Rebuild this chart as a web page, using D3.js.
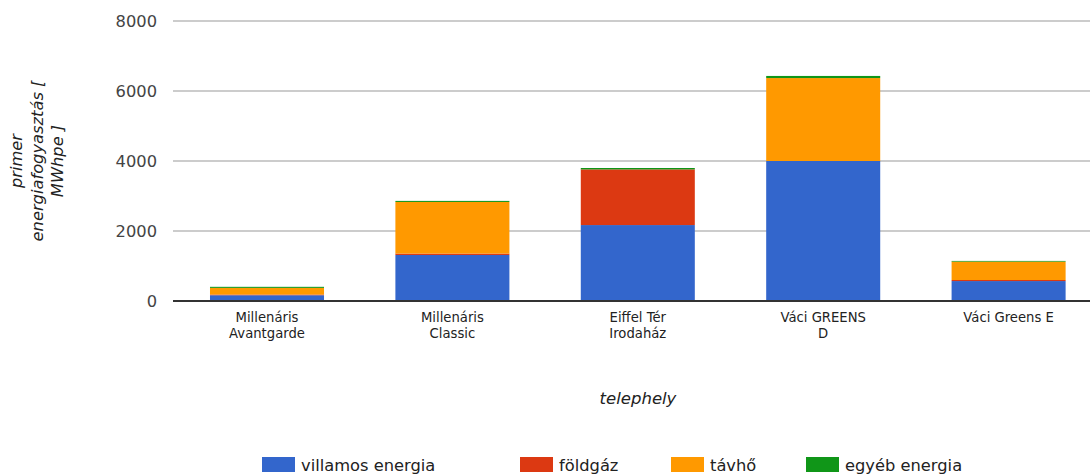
<!DOCTYPE html>
<html><head><meta charset="utf-8">
<script src="https://cdn.jsdelivr.net/npm/d3@7"></script>
<style>
html,body{margin:0;padding:0;background:#fff;font-family:'DejaVu Sans';}
svg text{font-family:'DejaVu Sans';}
</style></head>
<body><svg id="c" width="1090" height="476"></svg>
<script>
const categories = [["Millenáris","Avantgarde"],["Millenáris","Classic"],["Eiffel Tér","Irodaház"],["Váci GREENS","D"],["Váci Greens E"]];
const seriesNames = ["villamos energia","földgáz","távhő","egyéb energia"];
const villamos = [165, 1315, 2170, 4000, 570];
const foldgaz  = [20, 40, 1590, 0, 30];
const tavho    = [190, 1475, 0, 2370, 525];
const egyeb    = [30, 30, 40, 60, 20];
const yTicks = [0, 2000, 4000, 6000, 8000];
const colors = ["#3366cc","#dc3912","#ff9900","#109618"];
const FONT = "DejaVu Sans";

const svg = d3.select("#c");
const keys = categories.map((c,i)=>i);
const data = keys.map(i=>({i, s0:villamos[i], s1:foldgaz[i], s2:tavho[i], s3:egyeb[i]}));
const stack = d3.stack().keys(["s0","s1","s2","s3"])(data);

const x = d3.scaleBand().domain(keys).range([174.3, 1101.3]).paddingInner(0.385).paddingOuter(0.1925);
const y = d3.scaleLinear().domain([0, 8000]).range([301, 21]);

svg.append("g").selectAll("line").data(yTicks.filter(d=>d>0)).join("line")
  .attr("x1",173).attr("x2",1090).attr("y1",d=>y(d)).attr("y2",d=>y(d))
  .attr("stroke","#cccccc").attr("stroke-width",2).attr("shape-rendering","crispEdges");

svg.append("g").selectAll("text").data(yTicks).join("text")
  .attr("font-family",FONT)
  .attr("x",157).attr("y",d=>y(d)).attr("dy","0.36em").attr("text-anchor","end")
  .attr("font-size",16.3).attr("fill","#444").text(d=>d);

svg.append("g").selectAll("g").data(stack).join("g").attr("fill",(d,i)=>colors[i])
  .selectAll("rect").data(d=>d).join("rect")
  .attr("x",d=>x(d.data.i)).attr("width",x.bandwidth())
  .attr("y",d=>y(d[1])).attr("height",d=>y(d[0])-y(d[1]));

svg.append("line").attr("x1",173).attr("x2",1090).attr("y1",y(0)).attr("y2",y(0))
  .attr("stroke","#333").attr("stroke-width",2).attr("shape-rendering","crispEdges");

const xl = svg.append("g").selectAll("text").data(keys).join("text")
  .attr("font-family",FONT)
  .attr("x",d=>x(d)+x.bandwidth()/2).attr("y",322).attr("text-anchor","middle")
  .attr("font-size",13.2).attr("fill","#222");
xl.selectAll("tspan").data(d=>categories[d].map(t=>({t,cx:x(d)+x.bandwidth()/2}))).join("tspan")
  .attr("x",d=>d.cx).attr("dy",(d,j)=>j===0?0:16).text(d=>d.t);

svg.append("text").attr("font-family",FONT).attr("x",638).attr("y",404).attr("text-anchor","middle")
  .attr("font-size",16.5).attr("font-style","italic").attr("fill","#222").text("telephely");

const yt = svg.append("text").attr("font-family",FONT).attr("transform","translate(37,161) rotate(-90)")
  .attr("text-anchor","middle").attr("font-size",16.3).attr("font-style","italic").attr("fill","#222");
["primer","energiafogyasztás [","MWhpe ]"].forEach((t,j)=>{
  yt.append("tspan").attr("x",0).attr("y",(j-1)*20.8+5.5).text(t);
});

const legX = [262, 520, 671, 806];
const lg = svg.append("g").selectAll("g").data(seriesNames).join("g")
  .attr("transform",(d,i)=>`translate(${legX[i]},457)`);
lg.append("rect").attr("width",33).attr("height",15).attr("fill",(d,i)=>colors[i]);
lg.append("text").attr("font-family",FONT).attr("x",39).attr("y",14).attr("font-size",16.3).attr("fill","#222").text(d=>d);
</script></body></html>
